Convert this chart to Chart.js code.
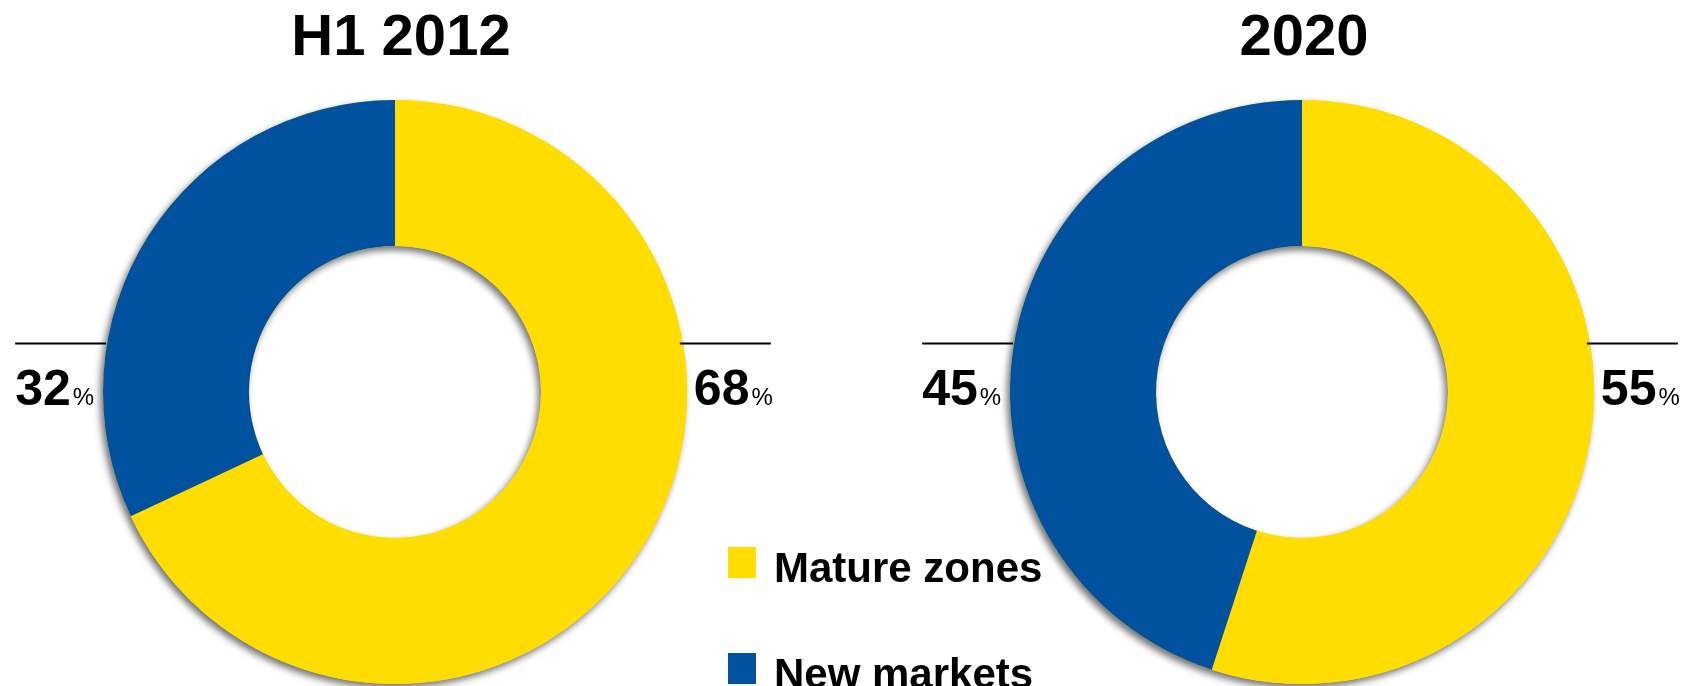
<!DOCTYPE html>
<html>
<head>
<meta charset="utf-8">
<script src="https://cdn.jsdelivr.net/npm/chart.js@4.4.1/dist/chart.umd.min.js"></script>
<style>
  html, body { margin: 0; padding: 0; background: #ffffff; overflow: hidden; }
  #wrap { position: relative; width: 1699px; height: 686px; }
  canvas { position: absolute; left: 0; top: 0; }
</style>
</head>
<body>
<div id="wrap">
  <canvas id="c1" width="1699" height="686"></canvas>
  <canvas id="c2" width="1699" height="686"></canvas>
</div>
<script>
// ---- data ----
const categories = ['Mature zones', 'New markets'];
const periods = ['H1 2012', '2020'];
const matureZones = [68, 55];
const newMarkets = [32, 45];
const colors = ['#FFDD00', '#00519E'];

const FONT = '"Liberation Sans", Arial, Helvetica, sans-serif';

// shadow under the whole ring, drawn once so slice borders stay clean
const ringShadow = {
  id: 'ringShadow',
  beforeDatasetsDraw(chart) {
    const arc = chart.getDatasetMeta(0).data[0];
    if (!arc) return;
    const { x, y, outerRadius, innerRadius } = arc.getProps(['x', 'y', 'outerRadius', 'innerRadius'], true);
    const ctx = chart.ctx;
    ctx.save();
    ctx.shadowColor = 'rgba(0,0,0,0.55)';
    ctx.shadowBlur = 7;
    ctx.shadowOffsetX = -3;
    ctx.shadowOffsetY = 4;
    ctx.beginPath();
    ctx.arc(x, y, outerRadius, 0, Math.PI * 2);
    ctx.arc(x, y, innerRadius, 0, Math.PI * 2, true);
    ctx.fillStyle = colors[0];
    ctx.fill('evenodd');
    ctx.restore();
  }
};

// titles, percentage labels with leader lines, optional legend
const decor = {
  id: 'decor',
  afterDraw(chart, args, opts) {
    const arc = chart.getDatasetMeta(0).data[0];
    const { x, y, outerRadius } = arc.getProps(['x', 'y', 'outerRadius'], true);
    const ctx = chart.ctx;
    const ds = chart.data.datasets[0].data;
    ctx.save();
    // title
    ctx.fillStyle = '#000';
    ctx.font = 'bold 58px ' + FONT;
    ctx.textAlign = 'center';
    ctx.textBaseline = 'alphabetic';
    ctx.fillText(opts.title, x + opts.titleDx, 55);

    // leader lines
    const lineY = 343;
    const dy = y - lineY;
    const half = Math.sqrt(outerRadius * outerRadius - dy * dy);
    const leftEdge = x - half, rightEdge = x + half;
    ctx.strokeStyle = '#000';
    ctx.lineWidth = 2;
    ctx.beginPath();
    ctx.moveTo(leftEdge - 92, lineY + 0.5); ctx.lineTo(leftEdge - 1, lineY + 0.5);
    ctx.moveTo(rightEdge - 3, lineY + 0.5); ctx.lineTo(rightEdge + 88, lineY + 0.5);
    ctx.stroke();

    const drawPct = (val, px) => {
      ctx.textAlign = 'left';
      ctx.font = 'bold 50px ' + FONT;
      const s = String(val);
      ctx.fillText(s, px, 405);
      const w = ctx.measureText(s).width;
      ctx.font = '24px ' + FONT;
      ctx.fillText('%', px + w + 2, 405);
    };
    drawPct(ds[1], leftEdge - 92);
    drawPct(ds[0], rightEdge + 11);

    // legend
    if (opts.legend) {
      const lx = 728, ly = 547, step = 106;
      chart.data.labels.forEach((lab, i) => {
        ctx.fillStyle = colors[i];
        ctx.fillRect(lx, ly + i * step, 28, 31);
        ctx.fillStyle = '#000';
        ctx.font = 'bold 42px ' + FONT;
        ctx.textAlign = 'left';
        ctx.fillText(lab, 774, ly + 35 + i * step);
      });
    }
    ctx.restore();
  }
};

function makeChart(id, idx, padding, titleDx, legend) {
  return new Chart(document.getElementById(id), {
    type: 'doughnut',
    data: {
      labels: categories,
      datasets: [{
        data: [matureZones[idx], newMarkets[idx]],
        backgroundColor: colors,
        borderWidth: 0,
        hoverOffset: 0
      }]
    },
    options: {
      responsive: false,
      animation: false,
      devicePixelRatio: 1,
      cutout: '50%',
      rotation: 0,
      layout: { padding: padding },
      events: [],
      plugins: {
        legend: { display: false },
        tooltip: { enabled: false },
        decor: { title: periods[idx], titleDx: titleDx, legend: legend }
      }
    },
    plugins: [ringShadow, decor]
  });
}

makeChart('c1', 0, { left: 103, right: 1012, top: 100, bottom: 2 }, 6, true);
makeChart('c2', 1, { left: 1010, right: 105, top: 100, bottom: 2 }, 2, false);
</script>
</body>
</html>
